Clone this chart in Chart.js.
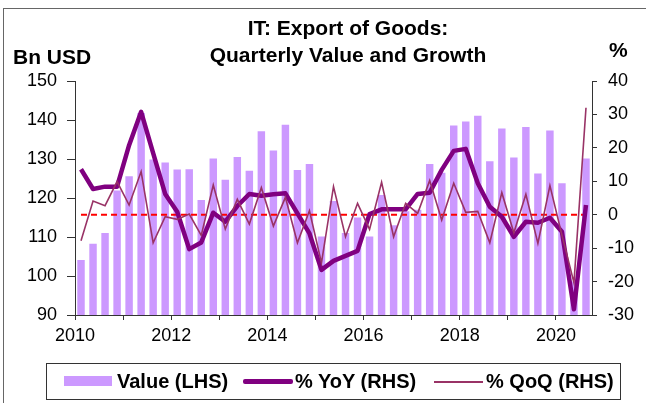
<!DOCTYPE html>
<html>
<head>
<meta charset="utf-8">
<script src="https://cdn.jsdelivr.net/npm/chart.js@4"></script>
<style>
  html, body { margin: 0; padding: 0; background: #fff; }
  body { width: 646px; height: 403px; position: relative; overflow: hidden;
         font-family: "Liberation Sans", Arial, sans-serif; color: #000; }
  #frame { position: absolute; left: 3px; top: 8px; width: 700px; height: 500px;
           border-left: 1px solid #666; border-top: 1px solid #666; }
  #wrap { position: absolute; left: 0; top: 0; width: 646px; height: 403px; }
  .title { position: absolute; left: 148px; width: 400px; text-align: center;
           font-weight: bold; font-size: 21px; line-height: 24px; }
  .unit { position: absolute; font-weight: bold; font-size: 21px; line-height: 24px; }
  #legend { position: absolute; left: 46px; top: 363px; width: 575px; height: 37px;
            border: 1px solid #333; box-sizing: border-box; }
  .lg-item { position: absolute; top: 0; height: 35px; line-height: 35px;
             font-weight: bold; font-size: 20px; white-space: nowrap; }
  .sw { position: absolute; }
</style>
</head>
<body>
<div id="frame"></div>
<div id="wrap"><canvas id="chart" width="646" height="403"></canvas></div>
<div class="title" style="top:16px">IT: Export of Goods:</div>
<div class="title" style="top:43px">Quarterly Value and Growth</div>
<div class="unit" style="left:13px; top:45px">Bn USD</div>
<div class="unit" style="left:609px; top:38px">%</div>
<div id="legend">
  <div class="sw" style="left:17px; top:12px; width:48px; height:10px; background:#cc99ff"></div>
  <div class="lg-item" style="left:70px">Value (LHS)</div>
  <div class="sw" style="left:196px; top:15px; width:50px; height:5px; background:#800080; border-radius:2px"></div>
  <div class="lg-item" style="left:248px">% YoY (RHS)</div>
  <div class="sw" style="left:387px; top:17px; width:49px; height:2px; background:#993366"></div>
  <div class="lg-item" style="left:439px">% QoQ (RHS)</div>
</div>
<script>
// quarters 2010Q1 .. 2020Q3
const quarters = [
  '2010Q1','2010Q2','2010Q3','2010Q4','2011Q1','2011Q2','2011Q3','2011Q4',
  '2012Q1','2012Q2','2012Q3','2012Q4','2013Q1','2013Q2','2013Q3','2013Q4',
  '2014Q1','2014Q2','2014Q3','2014Q4','2015Q1','2015Q2','2015Q3','2015Q4',
  '2016Q1','2016Q2','2016Q3','2016Q4','2017Q1','2017Q2','2017Q3','2017Q4',
  '2018Q1','2018Q2','2018Q3','2018Q4','2019Q1','2019Q2','2019Q3','2019Q4',
  '2020Q1','2020Q2','2020Q3'
];

// export value, Bn USD (left axis)
const valueLHS = [
  104.1, 108.3, 111.0, 121.9, 125.6, 141.8, 129.9, 129.1,
  127.3, 127.4, 119.5, 130.1, 124.7, 130.5, 127.0, 137.1,
  132.2, 138.8, 127.2, 128.7, 110.1, 119.2, 111.0, 115.0,
  110.1, 120.8, 113.0, 116.6, 117.0, 128.7, 126.5, 138.6,
  139.6, 141.1, 129.4, 137.8, 130.4, 138.2, 126.3, 137.3,
  123.8, 98.6, 130.1
];

// % YoY (right axis)
const yoy = [
  13.6, 7.7, 8.4, 8.4, 20.8, 30.8, 18.4, 6.2,
  0.9, -10.3, -8.3, 0.6, -2.1, 2.6, 6.2, 5.7,
  6.1, 6.4, 0.4, -5.6, -16.5, -13.8, -12.3, -10.8,
  0.2, 1.6, 1.6, 1.6, 6.2, 6.6, 13.4, 19.1,
  19.7, 9.4, 2.4, -0.6, -6.6, -2.1, -2.4, -0.9,
  -5.1, -28.3, 2.9
];

// % QoQ (right axis)
const qoq = [
  -7.8, 4.1, 2.7, 9.9, 2.9, 12.9, -8.4, -0.6,
  -1.4, 0.2, -6.2, 8.9, -4.3, 4.6, -2.8, 8.1,
  -3.4, 5.2, -8.4, 1.2, -14.4, 8.4, -6.6, 3.4,
  -4.4, 9.7, -6.6, 3.4, 0.4, 10.2, -1.6, 9.4,
  0.7, 1.0, -8.4, 6.6, -5.4, 6.1, -8.6, 8.7,
  -6.1, -20.3, 32.0
];

const leftTicks = { min: 90, max: 150, step: 10 };
const rightTicks = { min: -30, max: 40, step: 10 };

// x position of a quarter = middle of that quarter in years
function qx(label) {
  const y = parseInt(label.slice(0, 4), 10);
  const q = parseInt(label.slice(5), 10);
  return y + (q - 0.5) / 4;
}
const xs = quarters.map(qx);
const pts = arr => arr.map((v, i) => ({ x: xs[i], y: v }));

const FONT = "'Liberation Sans', Arial, sans-serif";

new Chart(document.getElementById('chart'), {
  type: 'bar',
  data: {
    datasets: [
      {
        type: 'line',
        label: '% QoQ (RHS)',
        data: pts(qoq),
        yAxisID: 'yR',
        borderColor: '#993366',
        borderWidth: 1.6,
        pointRadius: 0,
        tension: 0,
        order: 0
      },
      {
        type: 'line',
        label: '% YoY (RHS)',
        data: pts(yoy),
        yAxisID: 'yR',
        borderColor: '#800080',
        borderWidth: 4.5,
        pointRadius: 0,
        tension: 0,
        borderJoinStyle: 'round',
        order: 1
      },
      {
        type: 'line',
        label: 'zero',
        data: [{ x: xs[0], y: 0 }, { x: xs[xs.length - 1], y: 0 }],
        yAxisID: 'yR',
        borderColor: '#ff0000',
        borderWidth: 2,
        borderDash: [6, 4],
        pointRadius: 0,
        order: 2
      },
      {
        label: 'Value (LHS)',
        data: pts(valueLHS),
        yAxisID: 'yL',
        backgroundColor: '#cc99ff',
        categoryPercentage: 1,
        barPercentage: 0.62,
        order: 3
      }
    ]
  },
  options: {
    responsive: false,
    animation: false,
    events: [],
    layout: { padding: { top: 81, left: 0, right: 0, bottom: 0 } },
    plugins: { legend: { display: false }, title: { display: false }, tooltip: { enabled: false } },
    scales: {
      x: {
        type: 'linear',
        offset: false,
        min: 2010,
        max: 2020.75,
        afterFit: s => { s.height = 88; },
        border: { color: '#333', width: 1 },
        grid: { offset: false, drawOnChartArea: false, drawTicks: true, tickLength: 5, color: '#333' },
        ticks: {
          stepSize: 1,
          includeBounds: false,
          autoSkip: false,
          maxRotation: 0,
          padding: 5,
          color: '#000',
          font: { family: FONT, size: 18 },
          callback: v => (v % 2 === 0 ? String(v) : '')
        }
      },
      yL: {
        position: 'left',
        min: leftTicks.min,
        max: leftTicks.max,
        afterFit: s => { s.width = 75; },
        border: { color: '#333', width: 1 },
        grid: { drawOnChartArea: false, drawTicks: true, tickLength: 8, color: '#333' },
        ticks: { stepSize: leftTicks.step, padding: 10, color: '#000', font: { family: FONT, size: 18 } }
      },
      yR: {
        position: 'right',
        min: rightTicks.min,
        max: rightTicks.max,
        afterFit: s => { s.width = 54; },
        border: { color: '#333', width: 1 },
        grid: { drawOnChartArea: false, drawTicks: true, tickLength: 5, color: '#333' },
        ticks: { stepSize: rightTicks.step, padding: 11, color: '#000', font: { family: FONT, size: 18 } }
      }
    }
  }
});
</script>
</body>
</html>
